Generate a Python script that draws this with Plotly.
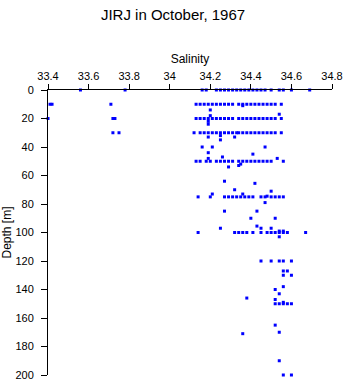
import plotly.graph_objects as go

# Salinity readings at the standard sampling depths (m)
sal_d0 = [33.56, 33.78, 34.16, 34.18, 34.23, 34.25, 34.27, 34.29, 34.31, 34.33, 34.35, 34.37,
          34.39, 34.41, 34.43, 34.45, 34.47, 34.50, 34.54, 34.56, 34.60, 34.69]
sal_d10 = [33.41, 33.42, 33.71, 34.13, 34.15, 34.17, 34.19, 34.21, 34.23, 34.25, 34.27, 34.29,
           34.31, 34.34, 34.36, 34.38, 34.40, 34.42, 34.44, 34.46, 34.48, 34.50, 34.52, 34.55]
sal_d20 = [33.40, 33.72, 33.73, 34.13, 34.15, 34.17, 34.19, 34.21, 34.23, 34.25, 34.27, 34.29,
           34.31, 34.34, 34.36, 34.38, 34.40, 34.42, 34.44, 34.46, 34.48, 34.50, 34.52, 34.55]
sal_d30 = [33.72, 33.75, 34.12, 34.15, 34.17, 34.19, 34.21, 34.23, 34.25, 34.27, 34.29, 34.31,
           34.33, 34.34, 34.36, 34.38, 34.40, 34.42, 34.44, 34.46, 34.48, 34.50, 34.52, 34.55]
sal_d50 = [34.13, 34.15, 34.18, 34.20, 34.23, 34.25, 34.27, 34.29, 34.31, 34.34, 34.36, 34.38,
           34.40, 34.42, 34.44, 34.46, 34.48, 34.50, 34.56]
sal_d75 = [34.14, 34.20, 34.27, 34.29, 34.31, 34.33, 34.35, 34.37, 34.39, 34.41, 34.45, 34.47,
           34.50, 34.52, 34.54, 34.56]
sal_d100 = [34.14, 34.32, 34.34, 34.36, 34.38, 34.41, 34.45, 34.48, 34.50, 34.52, 34.54, 34.56,
            34.58, 34.67]
sal_d120 = [34.45, 34.50, 34.54, 34.56, 34.60]
sal_d150 = [34.52, 34.54, 34.56, 34.58, 34.60]

# Readings at other depths
other_depth = [11, 14, 17, 18, 22, 24, 33, 32, 33, 35, 40, 40, 40, 44, 45, 48, 47, 48, 52, 53,
               54, 64, 65.5, 70, 71, 73, 73, 74.5, 79, 85, 85, 90, 90, 95.5, 97, 97, 97, 99, 99,
               103, 127, 127, 130, 130, 138, 140, 143, 146, 147, 149, 165, 170, 171, 190, 200, 200]
other_sal = [34.36, 34.20, 34.54, 34.20, 34.19, 34.19, 34.19, 34.25, 34.32, 34.25, 34.16, 34.21,
             34.47, 34.19, 34.41, 34.19, 34.26, 34.53, 34.35, 34.34, 34.29, 34.27, 34.42, 34.32,
             34.50, 34.21, 34.36, 34.48, 34.47, 34.27, 34.43, 34.40, 34.52, 34.43, 34.25, 34.45,
             34.50, 34.54, 34.56, 34.54, 34.56, 34.58, 34.56, 34.60, 34.56, 34.52, 34.54, 34.38,
             34.52, 34.56, 34.52, 34.54, 34.36, 34.54, 34.56, 34.60]

levels = [(0, sal_d0), (10, sal_d10), (20, sal_d20), (30, sal_d30), (50, sal_d50),
          (75, sal_d75), (100, sal_d100), (120, sal_d120), (150, sal_d150)]

xs, ys = [], []
for d, sals in levels:
    xs += sals
    ys += [d] * len(sals)
xs += other_sal
ys += other_depth

x_ticks = [33.4, 33.6, 33.8, 34.0, 34.2, 34.4, 34.6, 34.8]
x_labels = ["33.4", "33.6", "33.8", "34", "34.2", "34.4", "34.6", "34.8"]
y_ticks = [0, 20, 40, 60, 80, 100, 120, 140, 160, 180, 200]

font = "Liberation Sans, Arial, sans-serif"

fig = go.Figure(go.Scatter(
    x=xs, y=ys, mode="markers", cliponaxis=False,
    marker=dict(symbol="square", size=3, color="#0000ff", line=dict(width=0)),
))

fig.update_layout(
    width=346, height=384,
    margin=dict(l=48, r=14, t=90, b=9, pad=0, autoexpand=False),
    paper_bgcolor="white", plot_bgcolor="white",
    showlegend=False,
    font=dict(family=font, color="black"),
    title=dict(text="JIRJ in October, 1967", x=0.5, xanchor="center",
               y=1 - 15 / 384, yref="container", yanchor="middle",
               font=dict(size=15, family=font, color="black")),
)
fig.update_xaxes(
    range=[33.4, 34.8], side="top", tickvals=x_ticks, ticktext=x_labels,
    ticks="outside", ticklen=5, tickwidth=1, tickcolor="black",
    showline=True, linecolor="black", linewidth=1, automargin=False,
    showgrid=False, zeroline=False, tickfont=dict(size=11),
    title=dict(text="Salinity", font=dict(size=12), standoff=3),
)
fig.update_yaxes(
    range=[200, 0], tickvals=y_ticks,
    ticks="outside", ticklen=6, tickwidth=1, tickcolor="black",
    showline=True, linecolor="black", linewidth=1, automargin=False,
    showgrid=False, zeroline=False, tickfont=dict(size=11),
    ticklabelstandoff=5,
    title=dict(text="Depth [m]", font=dict(size=12), standoff=5),
)

fig.write_html("out.html")
